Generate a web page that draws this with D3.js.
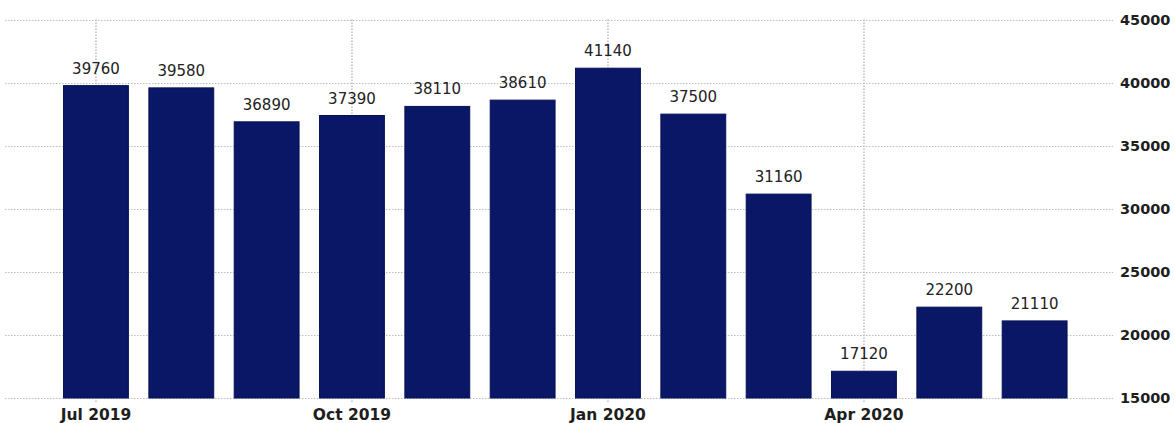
<!DOCTYPE html>
<html>
<head>
<meta charset="utf-8">
<script src="https://cdn.jsdelivr.net/npm/d3@7"></script>
<style>
  html, body { margin: 0; padding: 0; background: #ffffff; }
  svg { display: block; }
</style>
</head>
<body>
<svg id="chart" width="1175" height="423"></svg>
<script>
// Monthly figures, Jul 2019 – Jun 2020
const months = ["Jul 2019", "Aug 2019", "Sep 2019", "Oct 2019", "Nov 2019", "Dec 2019",
                "Jan 2020", "Feb 2020", "Mar 2020", "Apr 2020", "May 2020", "Jun 2020"];
const values = [39760, 39580, 36890, 37390, 38110, 38610, 41140, 37500, 31160, 17120, 22200, 21110];
const labeledMonths = ["Jul 2019", "Oct 2019", "Jan 2020", "Apr 2020"];
const yTicks = [15000, 20000, 25000, 30000, 35000, 40000, 45000];

const svg = d3.select("#chart");

const x = d3.scaleBand()
  .domain(months)
  .range([53.3, 1077.3])
  .paddingInner(0.24)
  .paddingOuter(0.12);

const y = d3.scaleLinear()
  .domain([15000, 45000])
  .range([398, 19.5]);

const gridColor = "#bcbcbc";

// horizontal grid lines
svg.append("g")
  .selectAll("line")
  .data(yTicks)
  .join("line")
  .attr("x1", 5)
  .attr("x2", 1113)
  .attr("y1", d => Math.round(y(d)) + 0.5)
  .attr("y2", d => Math.round(y(d)) + 0.5)
  .attr("stroke", gridColor)
  .attr("stroke-width", 1)
  .attr("stroke-dasharray", "1.5,1.5");

// vertical grid lines at quarter starts
svg.append("g")
  .selectAll("line")
  .data(labeledMonths)
  .join("line")
  .attr("x1", d => x(d) + x.bandwidth() / 2)
  .attr("x2", d => x(d) + x.bandwidth() / 2)
  .attr("y1", y(45000))
  .attr("y2", y(15000) + 5)
  .attr("stroke", gridColor)
  .attr("stroke-width", 1.5)
  .attr("stroke-dasharray", "1.5,1.5");

// bars
svg.append("g")
  .selectAll("rect")
  .data(months)
  .join("rect")
  .attr("x", d => x(d))
  .attr("width", x.bandwidth())
  .attr("y", (d, i) => y(values[i]))
  .attr("height", (d, i) => y(15000) - y(values[i]))
  .attr("fill", "#0a1766")
  .attr("stroke", "#061256")
  .attr("stroke-width", 1);

// value labels above bars
svg.append("g")
  .selectAll("text")
  .data(months)
  .join("text")
  .attr("x", d => x(d) + x.bandwidth() / 2)
  .attr("y", (d, i) => y(values[i]) - 12)
  .attr("text-anchor", "middle")
  .attr("font-family", "DejaVu Sans, sans-serif")
  .attr("font-size", 15)
  .attr("fill", "#222")
  .text((d, i) => values[i]);

// right-hand value axis
const yAxis = d3.axisRight(y).tickValues(yTicks).tickSize(0).tickPadding(0).tickFormat(d3.format("d"));
const gy = svg.append("g").attr("transform", "translate(1120,0)").call(yAxis);
gy.select(".domain").remove();
gy.selectAll("text")
  .attr("font-family", "DejaVu Sans, sans-serif")
  .attr("font-size", 14.5)
  .attr("font-weight", "bold")
  .attr("fill", "#1e1e1e");

// bottom axis with quarter labels
const xAxis = d3.axisBottom(x).tickValues(labeledMonths).tickSize(0).tickPadding(0);
const gx = svg.append("g").attr("transform", `translate(0,${y(15000)})`).call(xAxis);
gx.select(".domain").remove();
gx.selectAll(".tick text")
  .attr("dy", 0)
  .attr("y", 22)
  .attr("font-family", "DejaVu Sans, sans-serif")
  .attr("font-size", 15.5)
  .attr("font-weight", "bold")
  .attr("fill", "#1e1e1e");
</script>
</body>
</html>
